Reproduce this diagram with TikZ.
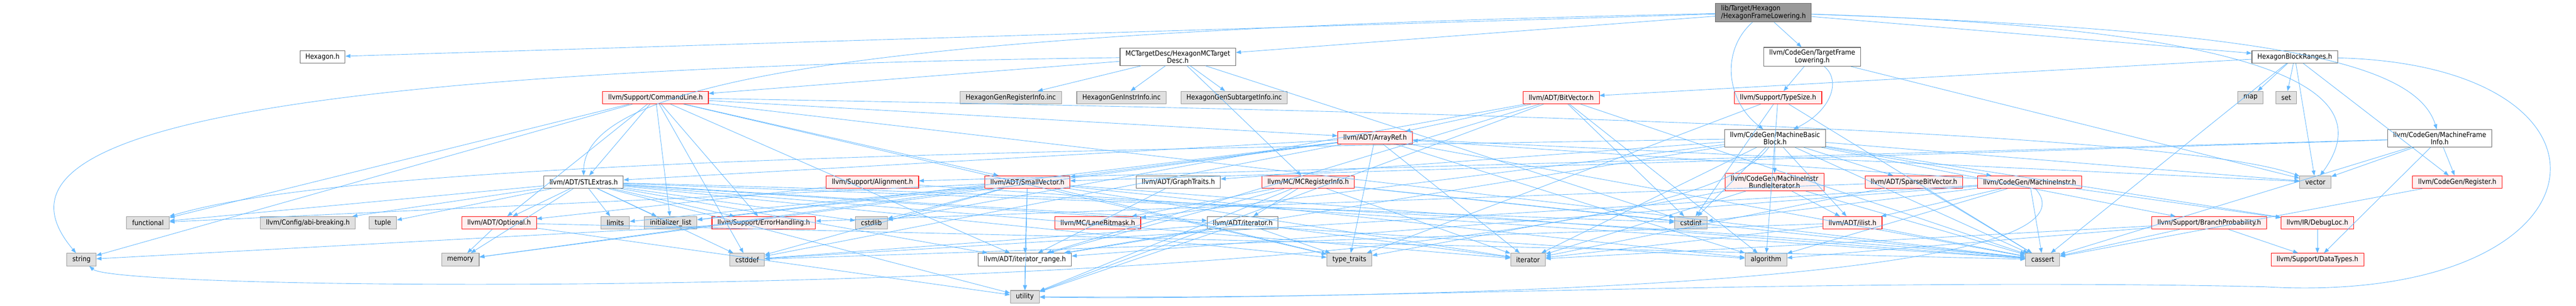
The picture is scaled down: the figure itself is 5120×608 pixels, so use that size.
\documentclass[tikz,border=0pt]{standalone}
\usepackage{fontspec}
\setmainfont{DejaVu Sans Condensed}
\usetikzlibrary{arrows.meta}
\definecolor{edgeblue}{HTML}{63B8FF}
\definecolor{redline}{HTML}{FF0000}
\definecolor{redfill}{HTML}{FFF0F0}
\definecolor{grayfill}{HTML}{E0E0E0}
\definecolor{grayline}{HTML}{999999}
\definecolor{darkline}{HTML}{666666}
\definecolor{mainfill}{HTML}{999999}
\tikzset{
    hdr/.style={rectangle, line width=1.1pt, minimum height=25pt, inner xsep=11pt, inner ysep=2pt,
        font=\fontsize{14}{15}\selectfont, align=center},
    twoline/.style={inner ysep=4.5pt},
    redhdr/.style={hdr, draw=redline, fill=redfill},
    whitehdr/.style={hdr, draw=darkline, fill=white},
    sysfile/.style={hdr, draw=grayline, fill=grayfill},
    mainhdr/.style={hdr, draw=darkline, fill=mainfill},
    incl/.style={draw=edgeblue, line width=0.9pt, -{Triangle[length=10pt,width=7.5pt]}},
}
\begin{document}
\begin{tikzpicture}[x=1pt, y=-1pt]
    \useasboundingbox (0,0) rectangle (5120,608);
    % top rows
    \node[mainhdr, twoline, align=left] (main) at (3505,25) {lib/Target/Hexagon\\/HexagonFrameLowering.h};
    \node[whitehdr] (hexagon) at (641,113) {Hexagon.h};
    \node[whitehdr, twoline] (mctd) at (2341,113) {MCTargetDesc/HexagonMCTarget\\Desc.h};
    \node[whitehdr, twoline] (tfl) at (3602,113) {llvm/CodeGen/TargetFrame\\Lowering.h};
    \node[whitehdr] (hbr) at (4561,113) {HexagonBlockRanges.h};
    \node[redhdr] (cmdline) at (1303,194) {llvm/Support/CommandLine.h};
    \node[sysfile] (genreg) at (2009,194) {HexagonGenRegisterInfo.inc};
    \node[sysfile] (geninstr) at (2229,194) {HexagonGenInstrInfo.inc};
    \node[sysfile] (gensub) at (2453,194) {HexagonGenSubtargetInfo.inc};
    \node[redhdr] (bitvec) at (3103,194) {llvm/ADT/BitVector.h};
    \node[redhdr] (typesize) at (3534,194) {llvm/Support/TypeSize.h};
    \node[sysfile] (map) at (4473,194) {map};
    \node[sysfile] (set) at (4544,194) {set};
    \node[redhdr] (arrayref) at (2733,274) {llvm/ADT/ArrayRef.h};
    \node[whitehdr, twoline] (mbb) at (3528,275) {llvm/CodeGen/MachineBasic\\Block.h};
    \node[whitehdr, twoline] (mfi) at (4849,275) {llvm/CodeGen/MachineFrame\\Info.h};
    % middle row
    \node[whitehdr] (stlextras) at (1160,362) {llvm/ADT/STLExtras.h};
    \node[redhdr] (alignment) at (1734,362) {llvm/Support/Alignment.h};
    \node[redhdr] (smallvec) at (2042,362) {llvm/ADT/SmallVector.h};
    \node[whitehdr] (graphtraits) at (2342,362) {llvm/ADT/GraphTraits.h};
    \node[redhdr] (mcreg) at (2600,362) {llvm/MC/MCRegisterInfo.h};
    \node[redhdr, twoline] (mibundle) at (3527,362) {llvm/CodeGen/MachineInstr\\BundleIterator.h};
    \node[redhdr] (sparsebv) at (3804,362) {llvm/ADT/SparseBitVector.h};
    \node[redhdr] (minstr) at (4034,362) {llvm/CodeGen/MachineInstr.h};
    \node[sysfile] (vector) at (4602,362) {vector};
    \node[redhdr] (register) at (4884,362) {llvm/CodeGen/Register.h};
    % lower rows
    \node[sysfile] (functional) at (294,443) {functional};
    \node[sysfile] (abibreak) at (612,443) {llvm/Config/abi-breaking.h};
    \node[sysfile] (tuple) at (761,443) {tuple};
    \node[redhdr] (optional) at (992,443) {llvm/ADT/Optional.h};
    \node[sysfile] (limits) at (1223,443) {limits};
    \node[sysfile] (initlist) at (1333,443) {initializer\_list};
    \node[redhdr] (errhandling) at (1518,443) {llvm/Support/ErrorHandling.h};
    \node[sysfile] (cstdlib) at (1732,443) {cstdlib};
    \node[redhdr] (lanemask) at (2182,443) {llvm/MC/LaneBitmask.h};
    \node[whitehdr] (iterh) at (2470,443) {llvm/ADT/iterator.h};
    \node[sysfile] (cstdint) at (3361,443) {cstdint};
    \node[redhdr] (ilist) at (3682,443) {llvm/ADT/ilist.h};
    \node[redhdr] (branchprob) at (4391,443) {llvm/Support/BranchProbability.h};
    \node[redhdr] (debugloc) at (4606,443) {llvm/IR/DebugLoc.h};
    \node[sysfile] (string) at (162,516) {string};
    \node[sysfile] (memory) at (915,516) {memory};
    \node[sysfile] (cstddef) at (1485,516) {cstddef};
    \node[whitehdr] (iterrange) at (2037,516) {llvm/ADT/iterator\_range.h};
    \node[sysfile] (typetraits) at (2682,516) {type\_traits};
    \node[sysfile] (iterator) at (3037,516) {iterator};
    \node[sysfile] (algorithm) at (3510,516) {algorithm};
    \node[sysfile] (cassert) at (4060,516) {cassert};
    \node[redhdr] (datatypes) at (4606,516) {llvm/Support/DataTypes.h};
    \node[sysfile] (utility) at (2037,590) {utility};

    % includes
    \foreach \t in {hexagon,mctd,tfl,hbr}
        \draw[incl] (main) -- (\t);
    \draw[incl] (main) .. controls (3420,100) and (3430,200) .. (mbb);
    \draw[incl] (main) .. controls (4500,60) and (4800,120) .. (mfi);
    \draw[incl] (main) .. controls (4600,60) and (4720,200) .. (vector);
    \draw[incl] (main) .. controls (1800,60) and (1160,150) .. (stlextras);
    \foreach \t in {bitvec,register,cassert,map,set,vector}
        \draw[incl] (hbr) -- (\t);
    \draw[incl] (hbr) .. controls (5260,130) and (5200,610) .. (4500,570)
        .. controls (3600,550) and (2600,600) .. (utility);
    \foreach \t in {mcreg,cmdline,cstdint,genreg,geninstr,gensub}
        \draw[incl] (mctd) -- (\t);
    \draw[incl] (mctd) .. controls (300,140) and (-20,300) .. (string);
    \foreach \t in {typesize,vector}
        \draw[incl] (tfl) -- (\t);
    \draw[incl] (tfl) .. controls (3660,160) and (3640,220) .. (mbb);
    \foreach \t in {smallvec,register,alignment,datatypes,cassert,vector}
        \draw[incl] (mfi) -- (\t);
    \foreach \t in {algorithm,cassert,cstdint,typetraits}
        \draw[incl] (typesize) -- (\t);
    \foreach \t in {arrayref,iterrange,algorithm,cassert,cstdint,cstdlib,utility}
        \draw[incl] (bitvec) -- (\t);
    \foreach \t in {arrayref,stlextras,smallvec,iterrange,errhandling,optional,cassert,cstddef,
                    functional,initlist,string,typetraits}
        \draw[incl] (cmdline) -- (\t);
    \draw[incl] (cmdline) .. controls (2500,215) and (4300,250) .. (vector);
    \foreach \t in {smallvec,stlextras,algorithm,cassert,cstddef,initlist,iterator,memory,
                    typetraits,vector}
        \draw[incl] (arrayref) -- (\t);
    \foreach \t in {graphtraits,sparsebv,ilist,iterrange,minstr,mibundle,debugloc,lanemask,
                    branchprob,cassert,cstdint,iterator,vector}
        \draw[incl] (mbb) -- (\t);
    \draw[incl] (mbb) .. controls (2000,300) and (700,320) .. (functional);
    \draw[incl] (mbb) .. controls (3300,600) and (250,590) .. (string);
    \foreach \t in {optional,limits,initlist,errhandling,memory,functional,abibreak,tuple,
                    cstdlib,iterh,iterrange,cstddef,cstdint,algorithm,typetraits,
                    iterator,utility}
        \draw[incl] (stlextras) -- (\t);
    \draw[incl] (stlextras) .. controls (2500,395) and (3600,470) .. (cassert);
    \foreach \t in {optional,cassert}
        \draw[incl] (alignment) -- (\t);
    \foreach \t in {algorithm,cassert,cstddef,cstdlib,functional,initlist,iterator,limits,
                    memory,typetraits,utility,iterrange}
        \draw[incl] (smallvec) -- (\t);
    \draw[incl] (graphtraits) -- (iterrange);
    \foreach \t in {iterh,iterrange,lanemask,cassert,cstdint,iterator,utility}
        \draw[incl] (mcreg) -- (\t);
    \foreach \t in {ilist,cassert,iterator,typetraits}
        \draw[incl] (mibundle) -- (\t);
    \foreach \t in {errhandling,cassert,iterator}
        \draw[incl] (sparsebv) -- (\t);
    \foreach \t in {arrayref,ilist,iterrange,debugloc,algorithm,cassert,cstddef,cstdint}
        \draw[incl] (minstr) -- (\t);
    \draw[incl] (minstr) .. controls (4200,550) and (3000,595) .. (utility);
    \draw[incl] (register) -- (cassert);
    \foreach \t in {memory,cassert,utility}
        \draw[incl] (optional) -- (\t);
    \draw[incl] (errhandling) -- (string);
    \foreach \t in {iterrange,cstddef,iterator,typetraits,utility}
        \draw[incl] (iterh) -- (\t);
    \foreach \t in {cassert,cstddef,iterator}
        \draw[incl] (ilist) -- (\t);
    \foreach \t in {datatypes,algorithm,cassert,iterator}
        \draw[incl] (branchprob) -- (\t);
    \draw[incl] (debugloc) -- (datatypes);
    \draw[incl] (iterrange) -- (utility);
\end{tikzpicture}
\end{document}
